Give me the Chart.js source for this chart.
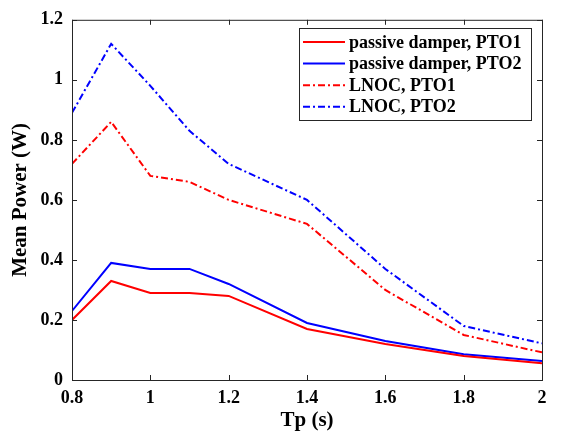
<!DOCTYPE html>
<html>
<head>
<meta charset="utf-8">
<script src="https://cdn.jsdelivr.net/npm/chart.js@4"></script>
<style>
    html, body { margin: 0; padding: 0; background: #fff; }
    #wrap { width: 561px; height: 437px; }
</style>
</head>
<body>
<div id="wrap"><canvas id="power-chart"></canvas></div>
<script>
const tp = [0.8, 0.9, 1.0, 1.1, 1.2, 1.4, 1.6, 1.8, 2.0];
const passivePTO1 = [0.2, 0.33, 0.29, 0.29, 0.28, 0.17, 0.12, 0.08, 0.056];
const passivePTO2 = [0.23, 0.39, 0.37, 0.37, 0.32, 0.19, 0.13, 0.086, 0.063];
const lnocPTO1 = [0.72, 0.86, 0.68, 0.66, 0.60, 0.52, 0.30, 0.15, 0.092];
const lnocPTO2 = [0.89, 1.12, 0.98, 0.83, 0.72, 0.60, 0.37, 0.18, 0.122];
const xTicks = [0.8, 1.0, 1.2, 1.4, 1.6, 1.8, 2.0];
const yTicks = [0, 0.2, 0.4, 0.6, 0.8, 1.0, 1.2];

const FONT = "'Liberation Serif', 'Times New Roman', serif";
const AXIS = "#262626";
const dashDot = [7, 3, 2, 3];

const toPoints = (ys) => ys.map((y, i) => ({ x: tp[i], y: y }));

const series = [
    { label: "passive damper, PTO1", data: passivePTO1, color: "#ff0000", dash: [] },
    { label: "passive damper, PTO2", data: passivePTO2, color: "#0000ff", dash: [] },
    { label: "LNOC, PTO1", data: lnocPTO1, color: "#ff0000", dash: dashDot },
    { label: "LNOC, PTO2", data: lnocPTO2, color: "#0000ff", dash: dashDot },
];

// box around the axes plus inward tick marks, matlab style
const boxPlugin = {
    id: "box",
    afterDraw(chart) {
        const { ctx, chartArea: a, scales } = chart;
        ctx.save();
        ctx.strokeStyle = AXIS;
        ctx.lineWidth = 1;
        ctx.setLineDash([]);
        ctx.strokeRect(a.left + 0.5, a.top + 0.5, a.right - a.left, a.bottom - a.top);
        ctx.beginPath();
        xTicks.forEach((v) => {
            const x = Math.round(scales.x.getPixelForValue(v)) + 0.5;
            ctx.moveTo(x, a.bottom); ctx.lineTo(x, a.bottom - 5);
            ctx.moveTo(x, a.top); ctx.lineTo(x, a.top + 5);
        });
        yTicks.forEach((v) => {
            const y = Math.round(scales.y.getPixelForValue(v)) + 0.5;
            ctx.moveTo(a.left, y); ctx.lineTo(a.left + 5, y);
            ctx.moveTo(a.right, y); ctx.lineTo(a.right - 5, y);
        });
        ctx.stroke();

        // legend inside the axes
        const lx = 299, ly = 28, lw = 232, lh = 92;
        ctx.fillStyle = "#fff";
        ctx.fillRect(lx, ly, lw, lh);
        ctx.strokeStyle = AXIS;
        ctx.strokeRect(lx + 0.5, ly + 0.5, lw, lh);
        ctx.font = "bold 18px " + FONT;
        ctx.textBaseline = "middle";
        chart.data.datasets.forEach((ds, i) => {
            const y = ly + 14 + i * 21.6;
            ctx.strokeStyle = ds.borderColor;
            ctx.lineWidth = 2;
            ctx.setLineDash(ds.borderDash || []);
            ctx.beginPath();
            ctx.moveTo(lx + 4, y); ctx.lineTo(lx + 46, y);
            ctx.stroke();
            ctx.fillStyle = "#000";
            ctx.fillText(ds.label, lx + 50, y + 1);
        });
        ctx.restore();
    },
};

new Chart(document.querySelector("#power-chart").getContext("2d"), {
    type: "line",
    data: {
        datasets: series.map((s) => ({
            label: s.label,
            data: toPoints(s.data),
            borderColor: s.color,
            backgroundColor: s.color,
            borderDash: s.dash,
            borderWidth: 2,
            pointRadius: 0,
            tension: 0,
            fill: false,
        })),
    },
    options: {
        responsive: true,
        maintainAspectRatio: false,
        animation: false,
        layout: { padding: { top: 16, right: 19, left: 0, bottom: 0 } },
        scales: {
            x: {
                type: "linear",
                min: 0.8,
                max: 2,
                afterBuildTicks: (scale) => { scale.ticks = xTicks.map((v) => ({ value: v })); },
                afterFit: (scale) => { scale.height = 57; },
                grid: { display: false, drawTicks: false },
                border: { display: false },
                ticks: {
                    padding: 8,
                    color: "#000",
                    maxRotation: 0,
                    font: { family: FONT, size: 18, weight: "bold" },
                    callback: (v) => String(+v.toFixed(1)),
                },
                title: {
                    display: true,
                    text: "Tp (s)",
                    color: "#000",
                    padding: { top: 0 },
                    font: { family: FONT, size: 21, weight: "bold" },
                },
            },
            y: {
                min: 0,
                max: 1.2,
                afterBuildTicks: (scale) => { scale.ticks = yTicks.map((v) => ({ value: v })); },
                afterFit: (scale) => { scale.width = 72; },
                grid: { display: false, drawTicks: false },
                border: { display: false },
                ticks: {
                    padding: 9,
                    color: "#000",
                    font: { family: FONT, size: 18, weight: "bold" },
                    callback: (v) => String(+v.toFixed(1)),
                },
                title: {
                    display: true,
                    text: "Mean Power (W)",
                    color: "#000",
                    padding: { top: 8, bottom: 0 },
                    font: { family: FONT, size: 21, weight: "bold" },
                },
            },
        },
        plugins: {
            legend: { display: false },
            tooltip: { enabled: false },
        },
    },
    plugins: [boxPlugin],
});
</script>
</body>
</html>
